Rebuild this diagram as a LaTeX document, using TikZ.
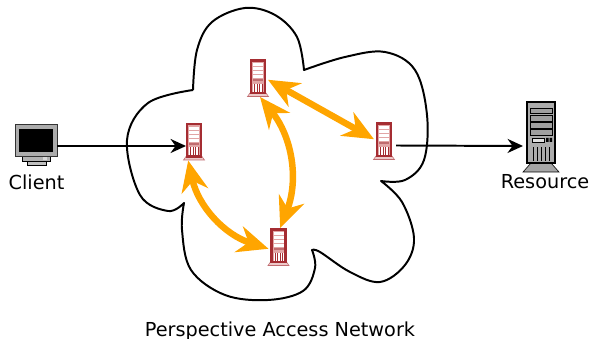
\documentclass[tikz,border=0pt]{standalone}
\usepackage{fontspec}
\setmainfont{DejaVu Sans}
\usetikzlibrary{arrows.meta}
\definecolor{srvred}{RGB}{165,45,50}
\definecolor{srvpink}{RGB}{225,165,165}
\definecolor{peerorange}{RGB}{255,165,0}
\tikzset{
  label/.style={font=\fontsize{13.7}{15}\selectfont, inner sep=0pt},
  link/.style={line width=1.4pt, -{Stealth[length=11pt,width=10pt]}},
  peer/.style={peerorange, line width=4.6pt, {Stealth[length=22pt,width=19pt]}-{Stealth[length=22pt,width=19pt]}},
  redserver/.pic={
    \node[minimum width=0.5cm, minimum height=0.95cm, inner sep=0pt, outer sep=0pt] (-box) at (0,0) {};
    \coordinate (-in) at (-8,4.5);
    \coordinate (-out) at (12,4.5);
    \filldraw[fill=srvpink!60!white, draw=srvred!70!white, line width=0.4pt] (-8,15)--(8,15)--(10.5,18.5)--(-10.5,18.5)--cycle;
    \filldraw[fill=srvpink, draw=srvred, line width=1.5pt] (-7,-17.5) rectangle (7,15);
    \foreach \y in {-14.5,-10.5,-6.5,-2.5} \fill[white] (-5,\y) rectangle (5,\y+2.6);
    \fill[srvred!70!white] (-5,1.5) rectangle (5,3.5);
    \fill[white] (-5,6) rectangle (5,14);
    \foreach \x in {-3.5,-1,1.5,4} \draw[srvred, line width=0.6pt] (\x,6) -- (\x,14);
  },
  monitor/.pic={
    \node[minimum width=1.05cm, minimum height=0.8cm, inner sep=0pt, outer sep=0pt] (-box) at (0,-5) {};
    \coordinate (-out) at (21,1);
    \filldraw[fill=gray!50, draw=black, line width=0.4pt] (-9,16) rectangle (10,20);
    \filldraw[fill=gray!60, draw=black, line width=0.4pt] (-14,11) rectangle (14,16);
    \filldraw[fill=gray!65, draw=gray!40!black, line width=0.6pt] (-21,-21) rectangle (21,11);
    \fill[black] (-17,-16) rectangle (17,7);
    \fill[gray!30] (7,12.5) rectangle (11,15);
  },
  bigserver/.pic={
    \node[minimum width=0.7cm, minimum height=1.55cm, inner sep=0pt, outer sep=0pt] (-box) at (0,0) {};
    \coordinate (-in) at (-18,13);
    \filldraw[fill=gray!70, draw=black, line width=0.4pt] (-10,30) -- (10,30) -- (18,39) -- (-18,39) -- cycle;
    \filldraw[fill=gray!65, draw=black, line width=1.2pt] (-14,-31) rectangle (14,30);
    \foreach \y/\h in {-25/5.5,-18/6.5,-11/6,-4/6} \filldraw[fill=gray!75, draw=black, line width=0.5pt] (-11,\y) rectangle (11,\y+\h);
    \filldraw[fill=gray!25, draw=black, line width=0.4pt] (-9,5) rectangle (3,9);
    \fill[black] (5,5) rectangle (7.5,9) (8.5,5) rectangle (11,9);
    \foreach \x in {-8,-4,0,4,8} \draw[black, line width=0.6pt] (\x,14) -- (\x,28);
  }
}
\begin{document}
\begin{tikzpicture}[x=0.025cm, y=-0.025cm]
  \useasboundingbox (0,0) rectangle (590,339);
  % cloud
  \draw[line width=1.4pt, line join=round]
    plot[smooth, tension=0.6] coordinates {(193,90) (197,50) (212,22) (245,8) (275,15) (297,37) (304,70)}
    -- plot[smooth, tension=0.6] coordinates {(304,70) (345,57) (385,52) (415,70) (427,115) (424,160) (405,180) (381,181)}
    -- plot[smooth, tension=0.6] coordinates {(381,181) (402,202) (414,238) (405,265) (380,282) (350,272) (320,252) (312,250)}
    -- plot[smooth, tension=0.6] coordinates {(312,250) (315,268) (303,291) (268,300) (225,295) (191,270) (182,230) (184,203)}
    -- plot[smooth, tension=0.6] coordinates {(184,203) (168,211) (140,195) (127,140) (148,103) (193,90)};
  % icons
  \pic (client) at (36,145) {monitor};
  \pic (srvL) at (194,141.5) {redserver};
  \pic (srvT) at (258,78) {redserver};
  \pic (srvR) at (384,141) {redserver};
  \pic (srvB) at (278.5,247) {redserver};
  \pic (res) at (541,133) {bigserver};
  % labels
  \node[label] (clientlbl) at (36.5,182) {Client};
  \node[label] (reslbl) at (545,182) {Resource};
  \node[label] (panlbl) at (280,331) {Perspective Access Network};
  % links
  \draw[link] (client-out) -- (srvL-in);
  \draw[link] (srvR-out) -- (res-in);
  \draw[peer] (srvL-box.-107) to[bend right=30] (srvB-box.190);
  \draw[peer] (srvT-box.-84) to[bend left=30] (srvB-box.85);
  \draw[peer] (srvT-box.-10) -- (srvR-box.170);
\end{tikzpicture}
\end{document}
